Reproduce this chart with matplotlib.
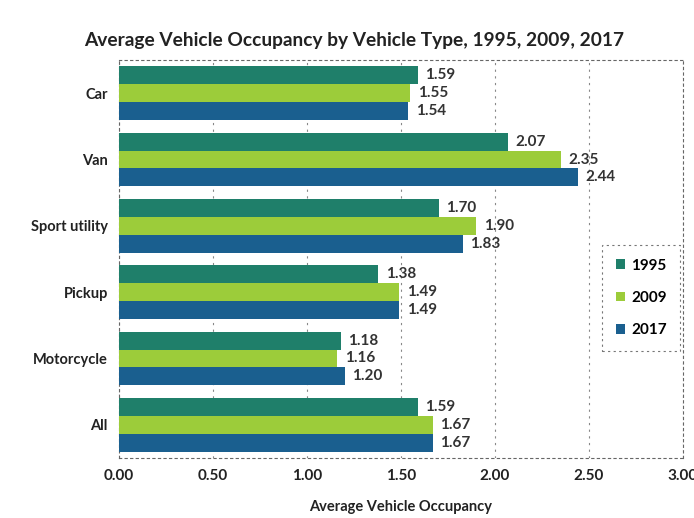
import matplotlib.pyplot as plt
import numpy as np

categories = ["Car", "Van", "Sport utility", "Pickup", "Motorcycle", "All"]
years = ["1995", "2009", "2017"]
occ_1995 = [1.59, 2.07, 1.70, 1.38, 1.18, 1.59]
occ_2009 = [1.55, 2.35, 1.90, 1.49, 1.16, 1.67]
occ_2017 = [1.54, 2.44, 1.83, 1.49, 1.20, 1.67]
colors = ["#1f7f6a", "#9ccc3a", "#1a5f8f"]

plt.rcParams['font.family'] = ['Lato', 'DejaVu Sans']
plt.rcParams['font.weight'] = 'bold'

fig = plt.figure(figsize=(6.94, 5.18), dpi=100)
ax = fig.add_axes([0.1715, 0.116, 0.8125, 0.768])

y = np.arange(len(categories))
h = 0.27
for i, (vals, col, yr) in enumerate(zip([occ_1995, occ_2009, occ_2017], colors, years)):
    pos = y + (i - 1) * h
    bars = ax.barh(pos, vals, height=h, color=col, label=yr, zorder=3)
    for b, v in zip(bars, vals):
        ax.text(v + 0.04, b.get_y() + b.get_height() / 2, f"{v:.2f}",
                va='center', ha='left', fontsize=11, fontweight='bold', color='#333333')

ax.set_xlim(0, 3.0)
ax.set_ylim(len(categories) - 0.5, -0.5)
ax.set_yticks(y)
ax.set_yticklabels(categories, fontsize=10.5, fontweight='bold', color='#222222')
ax.set_xticks(np.arange(0, 3.01, 0.5))
ax.set_xticklabels([f"{t:.2f}" for t in np.arange(0, 3.01, 0.5)], fontsize=11,
                   fontweight='bold', color='#222222')
ax.tick_params(length=0, pad=8)
ax.grid(axis='x', linestyle=(0, (2, 4)), color='#888888', linewidth=0.8, zorder=0)
for s in ax.spines.values():
    s.set_linestyle((0, (2, 3)))
    s.set_color('#666666')
    s.set_linewidth(0.8)

ax.set_xlabel("Average Vehicle Occupancy", fontsize=10.5, fontweight='bold', color='#222222', labelpad=12)
fig.text(0.51, 0.922, "Average Vehicle Occupancy by Vehicle Type, 1995, 2009, 2017",
         ha='center', va='center', fontsize=13.8, fontweight='bold', color='#222222')

leg = ax.legend(loc='upper left', bbox_to_anchor=(0.843, 0.555), fontsize=11,
                handlelength=0.6, handleheight=0.6, labelspacing=1.2, borderpad=0.9,
                fancybox=False, edgecolor='#555555', handletextpad=0.4)
leg.get_frame().set_linestyle((0, (2, 3)))
leg.get_frame().set_linewidth(0.8)

fig.savefig("out.png", dpi=100)
